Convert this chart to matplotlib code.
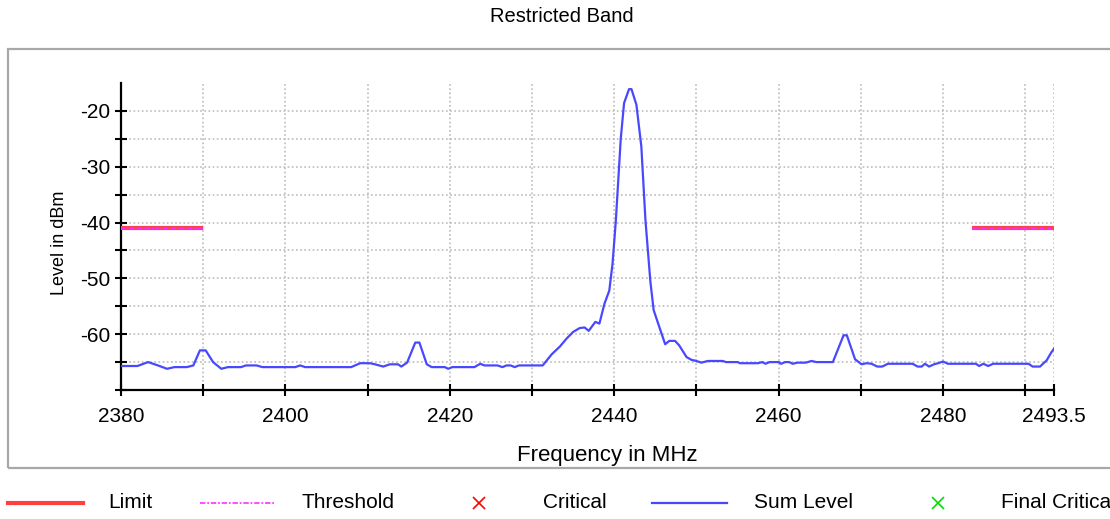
import matplotlib
matplotlib.use("agg")
import matplotlib.pyplot as plt
from matplotlib.lines import Line2D
from matplotlib.patches import Rectangle
import numpy as np

# sum level trace (MHz, dBm)
freq = [2380.0, 2382.0, 2383.3, 2384.5, 2385.6, 2386.5, 2388.0, 2388.8, 2389.6, 2390.3,
        2391.2, 2392.2, 2393.0, 2394.6, 2395.2, 2396.5, 2397.2, 2401.2, 2401.8, 2402.4,
        2408.0, 2409.1, 2410.3, 2410.9, 2411.9, 2412.7, 2413.7, 2414.1, 2414.8, 2415.8,
        2416.3, 2417.2, 2417.8, 2419.4, 2419.8, 2420.3, 2423.0, 2423.7, 2424.2, 2425.8,
        2426.4, 2426.9, 2427.4, 2427.9, 2428.4, 2431.3, 2432.4, 2433.4, 2434.2, 2435.0,
        2435.8, 2436.4, 2436.9, 2437.7, 2438.2, 2438.8, 2439.4, 2439.8, 2440.2, 2440.8,
        2441.2, 2441.8, 2442.1, 2442.7, 2443.3, 2443.8, 2444.4, 2444.8, 2445.6, 2446.2,
        2446.7, 2447.4, 2447.9, 2448.8, 2449.4, 2450.0, 2450.6, 2451.4, 2453.2, 2453.6,
        2455.0, 2455.3, 2457.5, 2458.0, 2458.4, 2458.9, 2460.0, 2460.3, 2460.8, 2461.3,
        2461.7, 2462.3, 2463.3, 2464.0, 2464.6, 2466.6, 2467.9, 2468.3, 2469.3, 2470.1,
        2470.7, 2471.3, 2472.0, 2472.6, 2473.3, 2476.3, 2476.9, 2477.4, 2477.8, 2478.3,
        2478.9, 2479.4, 2480.0, 2480.6, 2484.0, 2484.4, 2484.9, 2485.5, 2486.1, 2490.4,
        2490.9, 2491.8, 2492.6, 2493.2, 2493.5]
level = [-65.7, -65.7, -65.0, -65.6, -66.2, -65.9, -65.9, -65.6, -62.9, -62.9,
         -65.0, -66.2, -65.9, -65.9, -65.6, -65.6, -65.9, -65.9, -65.6, -65.9,
         -65.9, -65.2, -65.2, -65.4, -65.8, -65.4, -65.4, -65.8, -65.1, -61.5,
         -61.5, -65.4, -65.9, -65.9, -66.2, -65.9, -65.9, -65.3, -65.6, -65.6,
         -65.9, -65.6, -65.6, -65.9, -65.6, -65.6, -63.6, -62.2, -60.8, -59.6,
         -58.9, -58.8, -59.4, -57.8, -58.1, -54.6, -52.2, -47.3, -39.6, -24.9,
         -18.6, -16.1, -16.1, -18.9, -26.4, -39.6, -50.6, -55.7, -59.2, -61.8,
         -61.2, -61.2, -62.0, -64.1, -64.6, -64.8, -65.1, -64.8, -64.8, -65.0,
         -65.0, -65.2, -65.2, -65.0, -65.3, -65.0, -65.0, -65.3, -65.0, -65.0,
         -65.3, -65.1, -65.1, -64.8, -65.0, -65.0, -60.2, -60.2, -64.5, -65.4,
         -65.2, -65.3, -65.8, -65.8, -65.3, -65.3, -65.8, -65.8, -65.3, -65.8,
         -65.4, -65.2, -64.9, -65.3, -65.3, -65.7, -65.3, -65.7, -65.3, -65.3,
         -65.8, -65.8, -64.7, -63.2, -62.6]

# limit / threshold segments (restricted band edges)
limit_segments = [(2380.0, 2390.0), (2483.5, 2493.5)]
limit_level = -41.0

x_ticks = [2380, 2390, 2400, 2410, 2420, 2430, 2440, 2450, 2460, 2470, 2480, 2490, 2493.5]
x_labels = ['2380', '', '2400', '', '2420', '', '2440', '', '2460', '', '2480', '', '2493.5']
y_ticks = [-70, -65, -60, -55, -50, -45, -40, -35, -30, -25, -20]
y_labels = ['', '', '-60', '', '-50', '', '-40', '', '-30', '', '-20']

legend_names = ['Limit', 'Threshold', 'Critical', 'Sum Level', 'Final Critical']

plt.rcParams['font.family'] = ['Liberation Sans', 'DejaVu Sans']

fig = plt.figure(figsize=(11.1, 5.19), dpi=100)
W, H = 1110.0, 519.0

# grey panel frame
fig.add_artist(Rectangle((8 / W, 1 - 468 / H), (1115 - 8) / W, (468 - 49) / H,
                         transform=fig.transFigure, fill=False,
                         edgecolor='#a8a8a8', linewidth=1.6))

ax = fig.add_axes([121 / W, 1 - 390 / H, (1054 - 121) / W, (390 - 83) / H])

for lo, hi in limit_segments:
    ax.plot([lo, hi], [limit_level, limit_level], color='#ff4050', linewidth=3.0,
            solid_capstyle='butt', zorder=3)
    ax.plot([lo, hi], [limit_level, limit_level], color='#ff30ff', linewidth=1.0,
            linestyle=(0, (3, 1, 1, 1)), zorder=4)

ax.plot(freq, level, color='#4848ff', linewidth=1.6, zorder=5)

ax.set_xlim(2380, 2493.5)
ax.set_ylim(-70, -15)
ax.set_xticks(x_ticks)
ax.set_xticklabels(x_labels)
ax.set_yticks(y_ticks)
ax.set_yticklabels(y_labels)

ax.grid(True, color='#bcbcbc', linestyle=(0, (1, 1.5)), linewidth=1.2)
ax.set_axisbelow(True)
for s in ['top', 'right']:
    ax.spines[s].set_visible(False)
for s in ['left', 'bottom']:
    ax.spines[s].set_linewidth(1.6)
ax.tick_params(axis='both', direction='inout', length=9, width=1.5, labelsize=15)
ax.tick_params(axis='y', pad=3)
ax.tick_params(axis='x', pad=8)

fig.text(562 / W, 1 - 17 / H, 'Restricted Band', ha='center', va='center', fontsize=14.5)
fig.text(59 / W, 1 - 243 / H, 'Level in dBm', ha='center', va='center',
         rotation=90, fontsize=13)
fig.text(607 / W, 1 - 456 / H, 'Frequency in MHz', ha='center', va='center', fontsize=16)

# legend row below the panel
ly = 1 - 503 / H
fig.add_artist(Line2D([8 / W, 83 / W], [ly, ly], transform=fig.transFigure,
                      color='#ff4040', linewidth=3))
fig.add_artist(Line2D([200 / W, 274 / W], [ly, ly], transform=fig.transFigure,
                      color='#ff40ff', linewidth=1.3, linestyle=(0, (3, 1, 1, 1))))
fig.add_artist(Line2D([479 / W], [ly], transform=fig.transFigure, marker='x',
                      color='#ff0000', markersize=9, markeredgewidth=1.2, linestyle='none'))
fig.add_artist(Line2D([652 / W, 727 / W], [ly, ly], transform=fig.transFigure,
                      color='#4848ff', linewidth=1.6))
fig.add_artist(Line2D([938 / W], [ly], transform=fig.transFigure, marker='x',
                      color='#00e000', markersize=9, markeredgewidth=1.2, linestyle='none'))
for name, px in zip(legend_names, [108, 301, 543, 754, 1001]):
    fig.text(px / W, ly, name, ha='left', va='center', fontsize=15)

fig.savefig('out.png', dpi=100)
